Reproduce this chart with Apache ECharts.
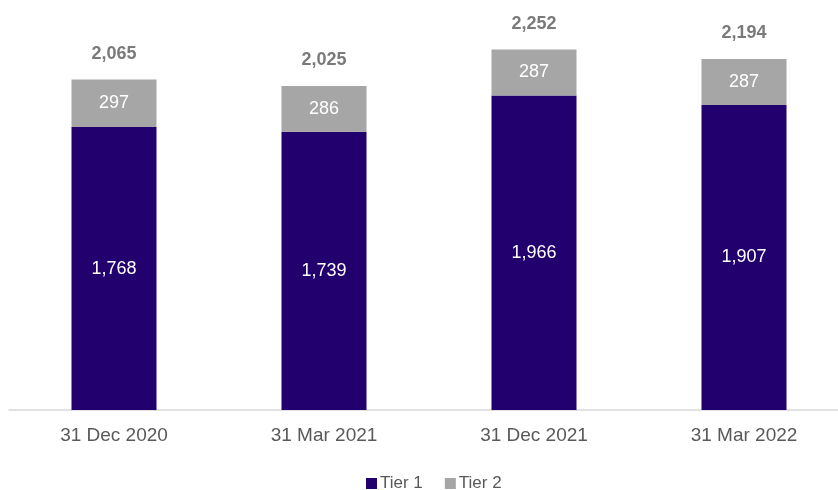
<!DOCTYPE html>
<html>
<head>
<meta charset="utf-8">
<script src="https://cdn.jsdelivr.net/npm/echarts@6/dist/echarts.min.js"></script>
<style>
  html, body { margin: 0; padding: 0; background: #fff; }
  #main { width: 838px; height: 490px; }
</style>
</head>
<body>
<div id="main"></div>
<script>
var categories = ['31 Dec 2020', '31 Mar 2021', '31 Dec 2021', '31 Mar 2022'];
var tier1 = [1768, 1739, 1966, 1907];
var tier2 = [297, 286, 287, 287];
var totals = [2065, 2025, 2252, 2194];

var txtColor = '#595959';
var font = '"Liberation Sans", Arial, sans-serif';

var myChart = echarts.init(document.getElementById('main'));

var option = {
    animation: false,
    textStyle: { fontFamily: font },
    grid: {
        left: 9,
        width: 840,
        top: 10,
        bottom: 80,
        outerBoundsMode: 'none',
        containLabel: false
    },
    legend: {
        data: ['Tier 1', 'Tier 2'],
        top: 470,
        left: 361,
        itemWidth: 11,
        itemHeight: 11,
        itemGap: 22,
        icon: 'rect',
        textStyle: { color: txtColor, fontSize: 17, fontFamily: font, padding: [0, 0, 0, -2] }
    },
    xAxis: {
        type: 'category',
        data: categories,
        axisTick: { show: false },
        axisLine: { show: true, lineStyle: { color: '#d9d9d9', width: 1.5 } },
        axisLabel: { color: txtColor, fontSize: 19, margin: 16, fontFamily: font }
    },
    yAxis: {
        type: 'value',
        min: 0,
        max: 2500,
        show: false,
        splitLine: { show: false }
    },
    series: [
        {
            name: 'Tier 1',
            type: 'bar',
            stack: 'total',
            barWidth: 85,
            itemStyle: { color: '#22006E' },
            label: {
                show: true,
                position: 'inside',
                color: '#fff',
                fontSize: 18,
                fontFamily: font,
                formatter: function (p) { return p.value.toLocaleString('en'); }
            },
            data: tier1
        },
        {
            name: 'Tier 2',
            type: 'bar',
            stack: 'total',
            barWidth: 85,
            itemStyle: { color: '#A6A6A6' },
            label: {
                show: true,
                position: 'inside',
                color: '#fff',
                fontSize: 18,
                fontFamily: font,
                formatter: function (p) { return p.value.toLocaleString('en'); }
            },
            data: tier2
        },
        {
            // only carries the total labels above each bar
            name: 'Total',
            type: 'scatter',
            symbolSize: 2,
            itemStyle: { color: 'rgba(0,0,0,0)' },
            silent: true,
            label: {
                show: true,
                position: 'top',
                distance: 16,
                color: txtColor,
                fontSize: 18,
                fontWeight: 'bold',
                fontFamily: font,
                formatter: function (p) { return p.value.toLocaleString('en'); }
            },
            data: totals
        }
    ]
};

myChart.setOption(option);
</script>
</body>
</html>
